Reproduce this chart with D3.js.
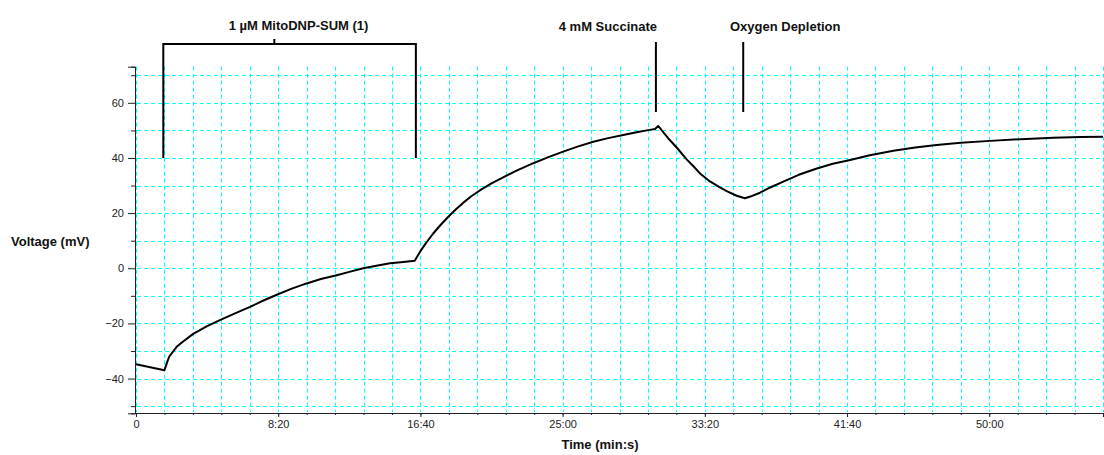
<!DOCTYPE html>
<html>
<head>
<meta charset="utf-8">
<script src="https://cdn.jsdelivr.net/npm/d3@7"></script>
<style>
  html, body { margin: 0; padding: 0; background: #fff; }
  svg { display: block; font-family: "Liberation Sans", Arial, sans-serif; }
</style>
</head>
<body>
<svg id="chart" width="1104" height="455"></svg>
<script>
// Membrane potential trace (mV) against elapsed time (s)
const timeSec = [0, 100, 108, 117, 143, 160, 201, 250, 295, 350, 401, 450, 495, 550, 600, 650, 706, 750, 799, 850, 893, 940, 980,
  1000, 1020, 1045, 1070, 1098, 1125, 1151, 1180, 1210, 1250, 1291, 1340, 1397, 1450, 1502, 1555, 1608, 1660, 1713, 1760, 1801, 1825, 1836,
  1853, 1876, 1901, 1936, 1960, 1983, 2018, 2053, 2077, 2112, 2141,
  2160, 2194, 2230, 2276, 2330, 2394, 2450, 2511, 2580, 2663, 2740, 2815, 2900, 3003, 3110, 3225, 3320, 3400];
const voltage = [-34.8, -37.0, -34.5, -32.0, -28.5, -27.0, -23.8, -21.0, -18.8, -16.3, -14.0, -11.6, -9.6, -7.3, -5.5, -3.9, -2.5, -1.3, 0, 1.0, 1.8, 2.3, 2.7,
  6.2, 9.2, 12.6, 15.6, 18.7, 21.4, 23.8, 26.2, 28.3, 30.8, 33.0, 35.5, 38.1, 40.3, 42.3, 44.2, 45.9, 47.2, 48.3, 49.3, 50.1, 50.5, 51.6,
  49.5, 46.6, 43.8, 39.5, 37.0, 34.4, 31.5, 29.3, 28.0, 26.3, 25.4,
  26.0, 27.4, 29.3, 31.4, 33.9, 36.2, 37.9, 39.3, 41.0, 42.6, 43.8, 44.7, 45.5, 46.2, 46.8, 47.3, 47.6, 47.7];

// Axis ticks
const xMajorTicks = [0, 500, 1000, 1500, 2000, 2500, 3000];
const xTickLabels = ["0", "8:20", "16:40", "25:00", "33:20", "41:40", "50:00"];
const xMinorTicks = d3.range(0, 3401, 100);
const yMajorTicks = [-40, -20, 0, 20, 40, 60];
const yMinorTicks = [-50, -30, -10, 10, 30, 50, 70];
const yGridValues = d3.range(-50, 71, 10);

// Experimental additions (time in s)
const treatmentLabel = "1 µM MitoDNP-SUM (1)";
const treatmentSpan = [96, 984];
const eventLabels = ["4 mM Succinate", "Oxygen Depletion"];
const eventTimes = [1828, 2135];

const svg = d3.select("#chart");
const x = d3.scaleLinear().domain([0, 3400]).range([136, 1103]);
const y = d3.scaleLinear().domain([-52.6, 73.1]).range([413.3, 66.7]);

// Axes
const tickFmt = d => xTickLabels[xMajorTicks.indexOf(d)];
const xAxisG = svg.append("g").attr("class", "x-axis").attr("transform", `translate(0,${Math.round(y.range()[0])})`);
xAxisG.append("g").call(d3.axisBottom(x).tickValues(xMinorTicks).tickSize(2).tickFormat(() => ""));
xAxisG.append("g").call(d3.axisBottom(x).tickValues(xMajorTicks).tickSize(4).tickPadding(3).tickFormat(tickFmt));

const yAxisG = svg.append("g").attr("class", "y-axis").attr("transform", `translate(${Math.round(x.range()[0]) - 1},0)`);
yAxisG.append("g").call(d3.axisLeft(y).tickValues(yMinorTicks).tickSize(4).tickFormat(() => ""));
yAxisG.append("g").call(d3.axisLeft(y).tickValues(yMajorTicks).tickSize(7).tickPadding(4));

svg.selectAll(".domain").attr("stroke", "#222");
svg.selectAll(".tick line").attr("stroke", "#222");
svg.selectAll(".tick text").attr("font-family", "Liberation Sans, Arial, sans-serif")
  .attr("font-size", 11).attr("fill", "#222");

// Dashed cyan grid
const grid = svg.append("g").attr("class", "grid");
grid.selectAll("line.gv").data(xMinorTicks).join("line").attr("class", "gv")
  .attr("x1", d => Math.round(x(d)) + 0.5).attr("x2", d => Math.round(x(d)) + 0.5)
  .attr("y1", y.range()[1]).attr("y2", Math.round(y.range()[0]) - 1)
  .attr("stroke", "#00ffff").attr("stroke-width", 1).attr("stroke-dasharray", "4,3");
grid.selectAll("line.gh").data(yGridValues).join("line").attr("class", "gh")
  .attr("x1", Math.round(x.range()[0]) + 1).attr("x2", x.range()[1])
  .attr("y1", d => Math.round(y(d)) + 0.5).attr("y2", d => Math.round(y(d)) + 0.5)
  .attr("stroke", "#00ffff").attr("stroke-width", 1).attr("stroke-dasharray", "4,3");

// Axis titles
svg.append("text").attr("x", 11).attr("y", 246).attr("font-size", 13).attr("font-weight", "bold")
  .attr("fill", "#111").text("Voltage (mV)");
svg.append("text").attr("x", 600).attr("y", 449).attr("text-anchor", "middle").attr("font-size", 13)
  .attr("font-weight", "bold").attr("fill", "#111").text("Time (min:s)");

// Trace
const trace = timeSec.map((t, i) => [t, voltage[i]]);
svg.append("path").datum(trace)
  .attr("fill", "none").attr("stroke", "#000").attr("stroke-width", 2).attr("stroke-linejoin", "round")
  .attr("d", d3.line().x(d => x(d[0])).y(d => y(d[1])));

// Treatment bracket
const ann = svg.append("g").attr("stroke", "#000").attr("stroke-width", 2).attr("fill", "none");
const bx0 = x(treatmentSpan[0]), bx1 = x(treatmentSpan[1]);
const bTop = 44, bBottom = y(40);
ann.append("path").attr("d", `M${bx0},${bBottom}V${bTop}H${bx1}V${bBottom}`);
ann.append("line").attr("x1", bx0 + 111).attr("x2", bx0 + 111).attr("y1", bTop).attr("y2", bTop - 5);
svg.append("text").attr("x", (bx0 + bx1) / 2 + 9).attr("y", 30).attr("text-anchor", "middle")
  .attr("font-size", 13).attr("font-weight", "bold").attr("fill", "#111").text(treatmentLabel);

// Event markers
const labelShift = [-48, 42];
eventTimes.forEach((t, i) => {
  ann.append("line").attr("x1", x(t)).attr("x2", x(t)).attr("y1", 42).attr("y2", 112);
  svg.append("text").attr("x", x(t) + labelShift[i]).attr("y", 31).attr("text-anchor", "middle")
    .attr("font-size", 13).attr("font-weight", "bold").attr("fill", "#111").text(eventLabels[i]);
});
</script>
</body>
</html>
